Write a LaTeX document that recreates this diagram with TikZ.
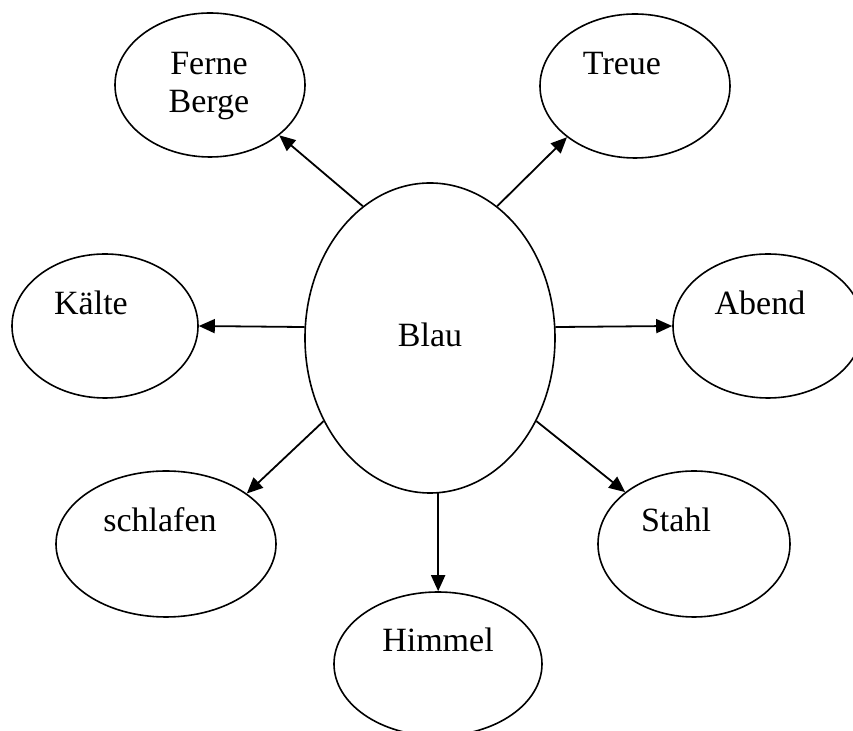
\documentclass[tikz,border=0pt]{standalone}
\usepackage{fontspec}
\setmainfont{Liberation Serif}
\usetikzlibrary{shapes.geometric}
\usetikzlibrary{arrows.meta}

\begin{document}
\begin{tikzpicture}[x=0.5pt,y=-0.5pt,
  bubble/.style={draw,ellipse,line width=0.8pt,inner sep=0pt,minimum width=95pt,minimum height=72pt},
  word/.style={inner sep=0pt,anchor=base,font=\fontsize{17pt}{19pt}\selectfont},
  link/.style={line width=0.9pt,-{Triangle[length=8pt,width=7pt]}}]

\useasboundingbox (0,0) rectangle (853,731);

\node[bubble,minimum width=125pt,minimum height=155pt] (blau) at (430,338) {};
\node[bubble] (berge) at (210,85) {};
\node[bubble] (treue) at (635,86) {};
\node[bubble,minimum width=93pt] (kaelte) at (105,326) {};
\node[bubble] (abend) at (768,326) {};
\node[bubble,minimum width=110pt,minimum height=73pt] (schlafen) at (166,544) {};
\node[bubble,minimum width=96pt,minimum height=73pt] (stahl) at (694,544) {};
\node[bubble,minimum width=104pt] (himmel) at (438,664) {};

\node[word] (tblau) at (430,347) {Blau};
\node[word,align=center] (tberge) at (209,113) {Ferne\\Berge};
\node[word] (ttreue) at (622,75) {Treue};
\node[word] (tkaelte) at (91,315) {Kälte};
\node[word] (tabend) at (760,315) {Abend};
\node[word] (tschlafen) at (160,532) {schlafen};
\node[word] (tstahl) at (676,532) {Stahl};
\node[word] (thimmel) at (438,652) {Himmel};

\draw[link] (blau.117) -- (berge.-36);
\draw[link] (blau.63) -- (treue.217);
\draw[link] (blau.175) -- (kaelte.east);
\draw[link] (blau.5) -- (abend.west);
\draw[link] (blau.218) -- (schlafen.32);
\draw[link] (blau.322) -- (stahl.143);
\draw[link] (blau.273) -- (blau.273 |- himmel.north);

\end{tikzpicture}
\end{document}
